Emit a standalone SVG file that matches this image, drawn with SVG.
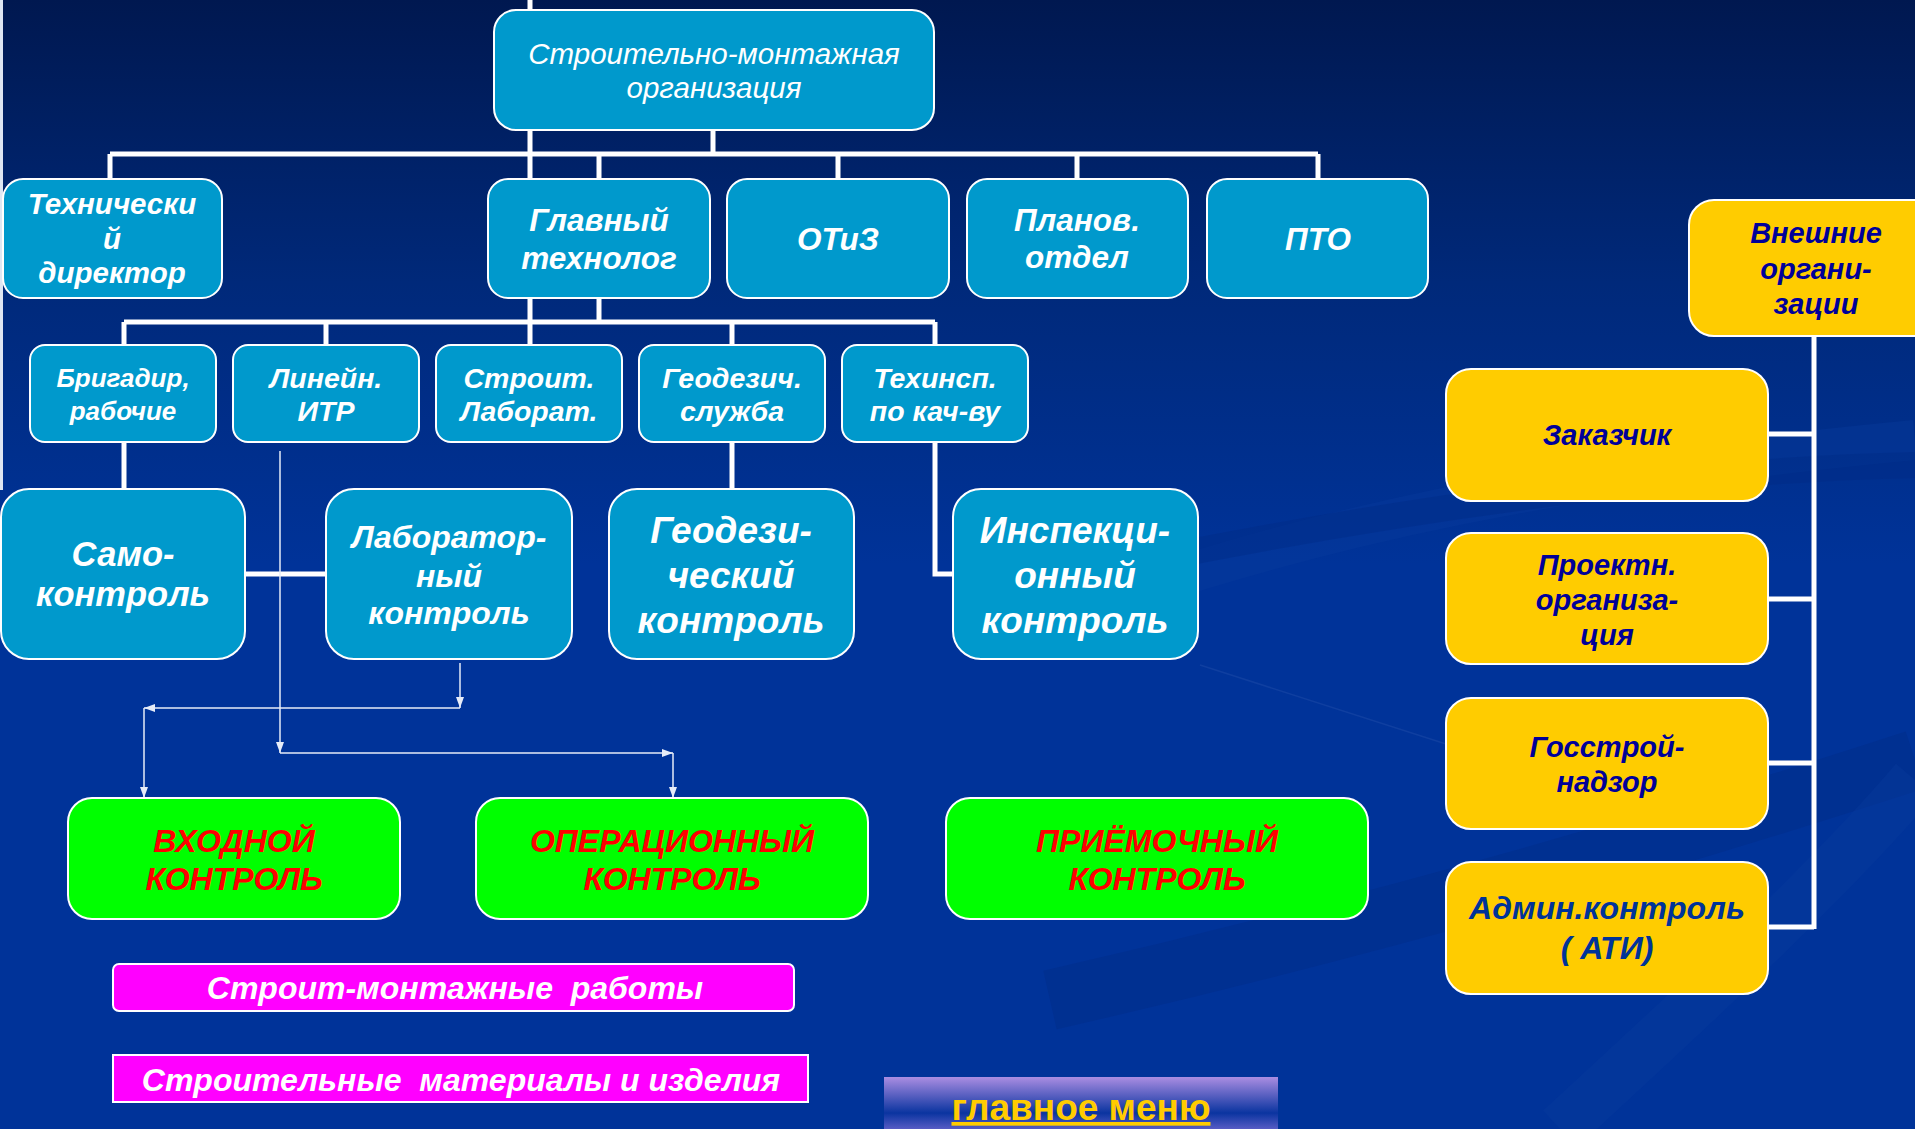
<svg xmlns="http://www.w3.org/2000/svg" width="1915" height="1129" viewBox="0 0 1915 1129">
<defs>
<linearGradient id="bg" x1="0" y1="0" x2="0" y2="1">
<stop offset="0" stop-color="#001850"/>
<stop offset="0.25" stop-color="#00297a"/>
<stop offset="0.5" stop-color="#003399"/>
<stop offset="1" stop-color="#003399"/>
</linearGradient>
<linearGradient id="menu" x1="0" y1="0" x2="0" y2="1">
<stop offset="0" stop-color="#aa8de2"/>
<stop offset="0.6" stop-color="#0a34a0"/>
<stop offset="1" stop-color="#7d6fd6"/>
</linearGradient>
<marker id="ah" markerUnits="userSpaceOnUse" markerWidth="12" markerHeight="10" refX="11" refY="4" orient="auto">
<path d="M0,0 L11,4 L0,8 Z" fill="#e6ecf8"/>
</marker>
<style>
.bx{fill:#0099CC;stroke:#fff;stroke-width:2}
.gr{fill:#00FF00;stroke:#fff;stroke-width:2}
.yl{fill:#FFCC00;stroke:#fff;stroke-width:2}
.mg{fill:#FF00FF;stroke:#fff;stroke-width:2}
.t{font-family:"Liberation Sans",Arial,sans-serif;font-weight:bold;font-style:italic;text-anchor:middle}
.w{fill:#fff}
.r{fill:#FF0000}
.n{fill:#000099}
.cn{stroke:#fff;stroke-width:5;fill:none}
.th{stroke:#e6ecf8;stroke-width:1.5;fill:none}
</style>
</defs>
<rect x="0" y="0" width="1915" height="1129" fill="url(#bg)"/>
<g id="swooshes" fill="none">
<path d="M1000,640 C1300,520 1600,470 1915,440" stroke="#0a3d9f" stroke-width="40" opacity="0.35"/>
<path d="M1150,560 C1450,500 1700,470 1915,465" stroke="#002a85" stroke-width="26" opacity="0.4"/>
<path d="M1050,1000 C1400,920 1700,830 1915,760" stroke="#002c88" stroke-width="60" opacity="0.45"/>
<path d="M1200,665 L1446,744" stroke="#2a55b0" stroke-width="1.5" opacity="0.35"/>
<path d="M1560,1129 C1700,1000 1830,880 1915,780" stroke="#0a3d9f" stroke-width="50" opacity="0.35"/>
</g>
<line x1="1.5" y1="0" x2="1.5" y2="490" stroke="#dfe6f2" stroke-width="3"/>
<g id="connectors">
<path class="cn" d="M530,0 V345"/>
<path class="cn" d="M713,130 V154"/>
<path class="cn" d="M110,154 H1318"/>
<path class="cn" d="M110,154 V180 M599,154 V180 M838,154 V180 M1077,154 V180 M1318,154 V180"/>
<path class="cn" d="M599,298 V322"/>
<path class="cn" d="M124,322 H935"/>
<path class="cn" d="M124,322 V345 M326,322 V345 M732,322 V345 M935,322 V345"/>
<path class="cn" d="M124,442 V489"/>
<path class="cn" d="M732,442 V489"/>
<path class="cn" d="M935,442 V574 H953"/>
<path class="cn" d="M245,574 H326"/>
<path class="cn" d="M1814,336 V929"/>
<path class="cn" d="M1768,434 H1814 M1768,599 H1814 M1768,763 H1814 M1768,927 H1814"/>
<path class="th" d="M280,451 V753" marker-end="url(#ah)"/>
<path class="th" d="M280,753 H673" marker-end="url(#ah)"/>
<path class="th" d="M673,753 V798" marker-end="url(#ah)"/>
<path class="th" d="M460,663 V708" marker-end="url(#ah)"/>
<path class="th" d="M460,708 H144" marker-end="url(#ah)"/>
<path class="th" d="M144,708 V798" marker-end="url(#ah)"/>
</g>
<g id="n-smo">
<rect class="bx" x="494" y="10" width="440" height="120" rx="22"/>
<text class="t w" style="font-weight:normal" font-size="29.5"><tspan x="714" y="64">Строительно-монтажная</tspan><tspan x="714" y="98">организация</tspan></text>
</g>
<g id="n-techdir">
<rect class="bx" x="3" y="179" width="219" height="119" rx="20"/>
<text class="t w" font-size="29.5"><tspan x="112" y="214">Технически</tspan><tspan x="112" y="249">й</tspan><tspan x="112" y="283">директор</tspan></text>
</g>
<g id="n-glavtech">
<rect class="bx" x="488" y="179" width="222" height="119" rx="20"/>
<text class="t w" font-size="31.5"><tspan x="599" y="231">Главный</tspan><tspan x="599" y="269">технолог</tspan></text>
</g>
<g id="n-otiz">
<rect class="bx" x="727" y="179" width="222" height="119" rx="20"/>
<text class="t w" font-size="31.5" x="838" y="250">ОТиЗ</text>
</g>
<g id="n-planov">
<rect class="bx" x="967" y="179" width="221" height="119" rx="20"/>
<text class="t w" font-size="31.5"><tspan x="1077" y="231">Планов.</tspan><tspan x="1077" y="268">отдел</tspan></text>
</g>
<g id="n-pto">
<rect class="bx" x="1207" y="179" width="221" height="119" rx="20"/>
<text class="t w" font-size="31.5" x="1318" y="250">ПТО</text>
</g>
<g id="n-brigadir">
<rect class="bx" x="30" y="345" width="186" height="97" rx="15"/>
<text class="t w" font-size="26"><tspan x="123" y="387">Бригадир,</tspan><tspan x="123" y="420">рабочие</tspan></text>
</g>
<g id="n-itr">
<rect class="bx" x="233" y="345" width="186" height="97" rx="15"/>
<text class="t w" font-size="28.5"><tspan x="326" y="388">Линейн.</tspan><tspan x="326" y="421">ИТР</tspan></text>
</g>
<g id="n-lab">
<rect class="bx" x="436" y="345" width="186" height="97" rx="15"/>
<text class="t w" font-size="28.5"><tspan x="529" y="388">Строит.</tspan><tspan x="529" y="421">Лаборат.</tspan></text>
</g>
<g id="n-geoserv">
<rect class="bx" x="639" y="345" width="186" height="97" rx="15"/>
<text class="t w" font-size="28.5"><tspan x="732" y="388">Геодезич.</tspan><tspan x="732" y="421">служба</tspan></text>
</g>
<g id="n-techinsp">
<rect class="bx" x="842" y="345" width="186" height="97" rx="15"/>
<text class="t w" font-size="28.5"><tspan x="935" y="388">Техинсп.</tspan><tspan x="935" y="421">по кач-ву</tspan></text>
</g>
<g id="n-samo">
<rect class="bx" x="1" y="489" width="244" height="170" rx="28"/>
<text class="t w" font-size="34.5"><tspan x="123" y="566">Само-</tspan><tspan x="123" y="606">контроль</tspan></text>
</g>
<g id="n-labctrl">
<rect class="bx" x="326" y="489" width="246" height="170" rx="28"/>
<text class="t w" font-size="32"><tspan x="449" y="548">Лаборатор-</tspan><tspan x="449" y="587">ный</tspan><tspan x="449" y="624">контроль</tspan></text>
</g>
<g id="n-geoctrl">
<rect class="bx" x="609" y="489" width="245" height="170" rx="28"/>
<text class="t w" font-size="37"><tspan x="731" y="543">Геодези-</tspan><tspan x="731" y="588">ческий</tspan><tspan x="731" y="633">контроль</tspan></text>
</g>
<g id="n-inspctrl">
<rect class="bx" x="953" y="489" width="245" height="170" rx="28"/>
<text class="t w" font-size="37"><tspan x="1075" y="543">Инспекци-</tspan><tspan x="1075" y="588">онный</tspan><tspan x="1075" y="633">контроль</tspan></text>
</g>
<g id="n-vhod">
<rect class="gr" x="68" y="798" width="332" height="121" rx="24"/>
<text class="t r" font-size="32"><tspan x="234" y="852">ВХОДНОЙ</tspan><tspan x="234" y="890">КОНТРОЛЬ</tspan></text>
</g>
<g id="n-oper">
<rect class="gr" x="476" y="798" width="392" height="121" rx="24"/>
<text class="t r" font-size="32"><tspan x="672" y="852">ОПЕРАЦИОННЫЙ</tspan><tspan x="672" y="890">КОНТРОЛЬ</tspan></text>
</g>
<g id="n-priem">
<rect class="gr" x="946" y="798" width="422" height="121" rx="24"/>
<text class="t r" font-size="32"><tspan x="1157" y="852">ПРИЁМОЧНЫЙ</tspan><tspan x="1157" y="890">КОНТРОЛЬ</tspan></text>
</g>
<g id="n-smr">
<rect class="mg" x="113" y="964" width="681" height="47" rx="6"/>
<text class="t w" font-size="32" x="455" y="999" xml:space="preserve">Строит-монтажные  работы</text>
</g>
<g id="n-mat">
<rect class="mg" x="113" y="1055" width="695" height="47"/>
<text class="t w" font-size="32" x="461" y="1091" xml:space="preserve">Строительные  материалы и изделия</text>
</g>
<g id="n-menu">
<rect x="884" y="1077" width="394" height="60" fill="url(#menu)"/>
<text x="1081" y="1120" font-family="Liberation Sans, Arial, sans-serif" font-weight="bold" font-size="37" fill="#FFCC00" text-anchor="middle" text-decoration="underline">главное меню</text>
</g>
<g id="n-ext">
<rect class="yl" x="1689" y="200" width="260" height="136" rx="25"/>
<text class="t n" font-size="29"><tspan x="1816" y="243">Внешние</tspan><tspan x="1816" y="279">органи-</tspan><tspan x="1816" y="314">зации</tspan></text>
</g>
<g id="n-zakaz">
<rect class="yl" x="1446" y="369" width="322" height="132" rx="25"/>
<text class="t n" font-size="29" x="1607" y="445">Заказчик</text>
</g>
<g id="n-proekt">
<rect class="yl" x="1446" y="533" width="322" height="131" rx="25"/>
<text class="t n" font-size="29"><tspan x="1607" y="575">Проектн.</tspan><tspan x="1607" y="610">организа-</tspan><tspan x="1607" y="645">ция</tspan></text>
</g>
<g id="n-gosstroy">
<rect class="yl" x="1446" y="698" width="322" height="131" rx="25"/>
<text class="t n" font-size="29"><tspan x="1607" y="757">Госстрой-</tspan><tspan x="1607" y="792">надзор</tspan></text>
</g>
<g id="n-admin">
<rect class="yl" x="1446" y="862" width="322" height="132" rx="25"/>
<text class="t" fill="#003399" font-size="32"><tspan x="1607" y="919">Админ.контроль</tspan><tspan x="1607" y="959">( АТИ)</tspan></text>
</g>
</svg>
